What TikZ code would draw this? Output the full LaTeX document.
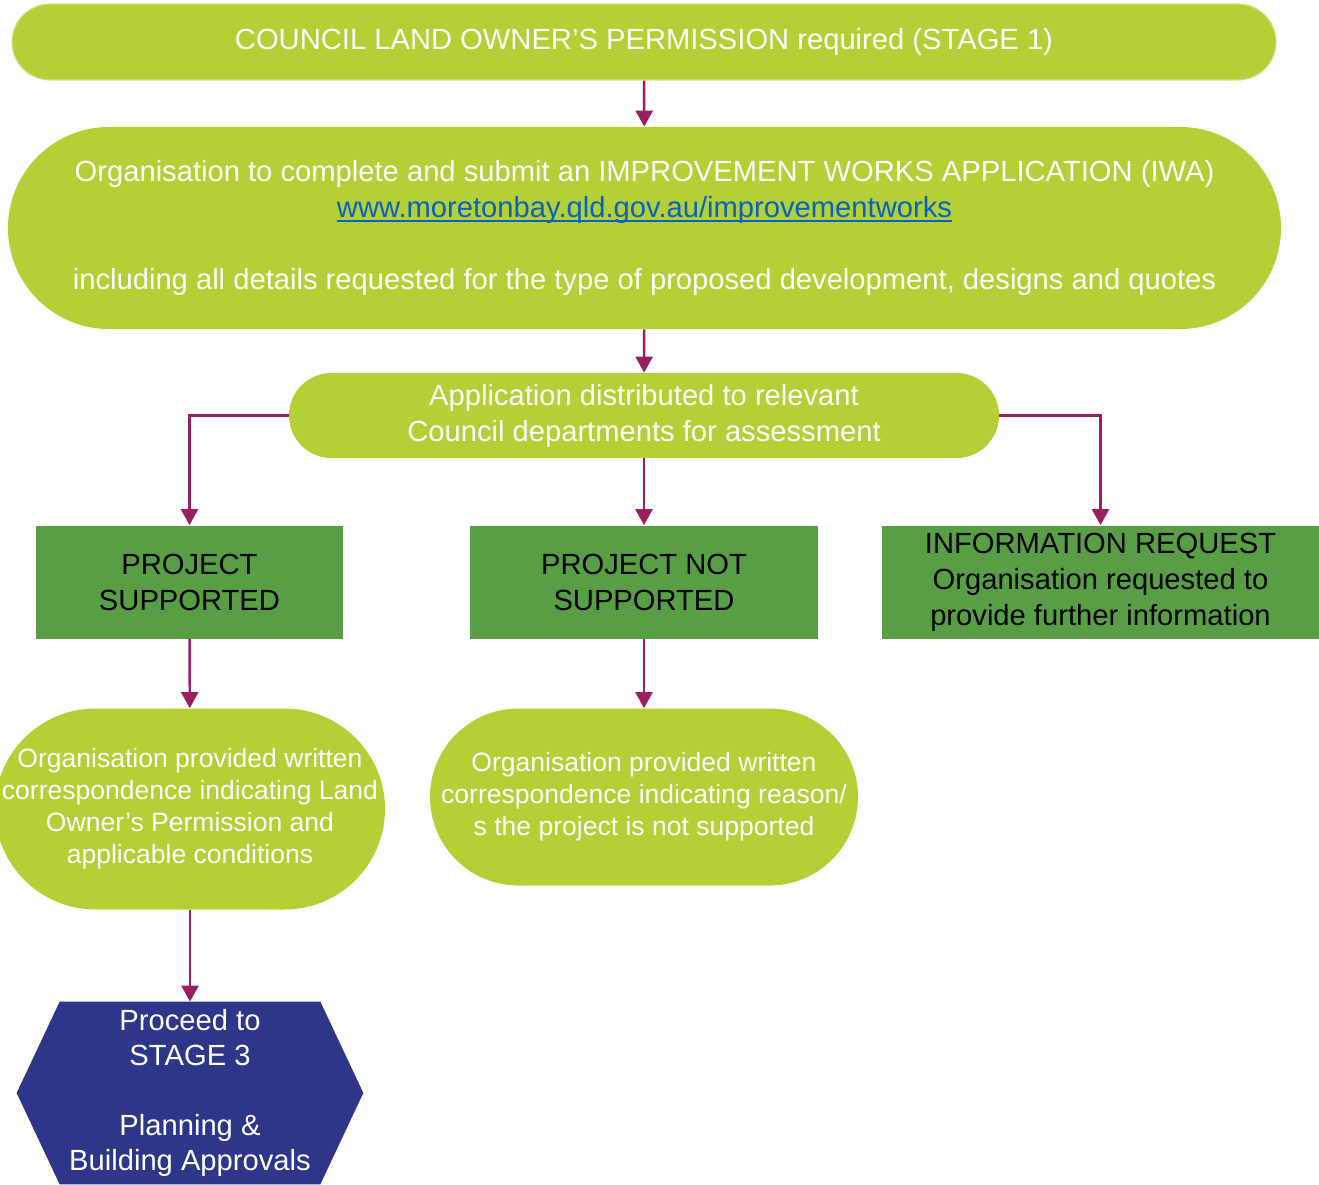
\documentclass[tikz,border=0pt]{standalone}
\usepackage{fontspec}
\setmainfont{Liberation Sans}
\usepackage{tikz}
\usetikzlibrary{arrows.meta}
\usetikzlibrary{backgrounds}

\definecolor{lime}{RGB}{181,207,54}
\definecolor{leaf}{RGB}{88,158,69}
\definecolor{navy}{RGB}{46,54,137}
\definecolor{plum}{RGB}{155,29,98}
\definecolor{link}{RGB}{5,99,193}

\newcommand\weblink[1]{\textcolor{link}{\setbox0\hbox{#1}\rlap{\rule[-2.4pt]{\wd0}{0.8pt}}\box0}}

\tikzset{
  pill/.style={fill=lime, text=white, inner sep=0pt, align=center,
    font=\fontsize{16.6pt}{20.5pt}\selectfont},
  smallpill/.style={pill, font=\fontsize{15.1pt}{18.2pt}\selectfont},
  greenbox/.style={fill=leaf, text=black, inner sep=0pt, align=center,
    minimum height=2.26cm, font=\fontsize{16.6pt}{20.5pt}\selectfont},
  hexbox/.style={text=white, inner sep=0pt, align=center,
    minimum width=6.92cm, minimum height=3.64cm,
    font=\fontsize{16.6pt}{19.9pt}\selectfont},
  flow/.style={draw=plum, line width=1.4pt,
    -{Triangle[width=0.34cm,length=0.32cm]}}
}

\begin{document}
\begin{tikzpicture}
\useasboundingbox (0,0) rectangle (26.38,-23.70);
\begin{scope}
\clip (0,0) rectangle (26.38,-23.70);

\node[pill, draw=lime!60!white, line width=0.6pt, minimum width=25.28cm, minimum height=1.52cm, rounded corners=0.76cm] (stage1) at (12.88,-0.84)
  {COUNCIL LAND OWNER’S PERMISSION required (STAGE 1)};

\node[pill, minimum width=25.46cm, minimum height=4.04cm, rounded corners=2.02cm] (iwa) at (12.89,-4.56)
  {Organisation to complete and submit an IMPROVEMENT WORKS APPLICATION (IWA)\\
   \weblink{www.moretonbay.qld.gov.au/improvementworks}\\[20.5pt]
   including all details requested for the type of proposed development, designs and quotes};

\node[pill, minimum width=14.2cm, minimum height=1.7cm, rounded corners=0.85cm] (dist) at (12.88,-8.31)
  {Application distributed to relevant\\Council departments for assessment};

\node[greenbox, minimum width=6.14cm] (sup) at (3.79,-11.64) {PROJECT\\SUPPORTED};
\node[greenbox, minimum width=6.96cm] (notsup) at (12.88,-11.64) {PROJECT NOT\\SUPPORTED};
\node[greenbox, minimum width=8.74cm] (info) at (22.01,-11.64)
  {INFORMATION REQUEST\\Organisation requested to\\provide further information};

\node[smallpill, minimum width=7.80cm, minimum height=4.02cm, rounded corners=2.01cm] (letter) at (3.80,-16.18)
  {Organisation provided written\\correspondence indicating Land\\Owner’s Permission and\\applicable conditions};
\node[smallpill, minimum width=8.56cm, minimum height=3.54cm, rounded corners=1.77cm] (reason) at (12.88,-15.94)
  {Organisation provided written\\correspondence indicating reason/\\s the project is not supported};

\node[hexbox] (stage3) at (3.80,-21.86)
  {Proceed to\\STAGE 3\\[19.9pt]Planning \&\\Building Approvals};
\begin{scope}[on background layer]
\fill[navy] ([xshift=0.86cm]stage3.north west) -- ([xshift=-0.86cm]stage3.north east) -- (stage3.east)
  -- ([xshift=-0.86cm]stage3.south east) -- ([xshift=0.86cm]stage3.south west) -- (stage3.west) -- cycle;
\end{scope}

% connectors
\draw[flow] (stage1) -- (iwa);
\draw[flow] (iwa) -- (dist);
\draw[flow] (dist.west) -| (sup.north);
\draw[flow] (dist) -- (notsup);
\draw[flow] (dist.east) -| (info.north);
\draw[flow] (sup) -- (letter);
\draw[flow] (notsup) -- (reason);
\draw[flow] (letter) -- (stage3);
\end{scope}
\end{tikzpicture}
\end{document}
